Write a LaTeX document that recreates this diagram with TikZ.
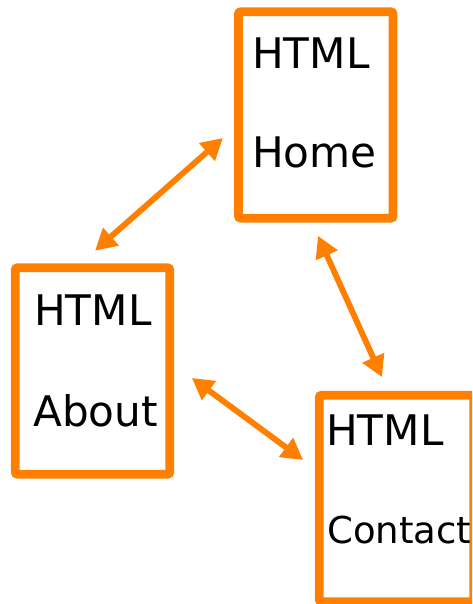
\documentclass[tikz,border=0pt]{standalone}
\usepackage{fontspec}
\setmainfont{DejaVu Sans}
\usetikzlibrary{arrows.meta,calc}
\definecolor{pageorange}{RGB}{255,128,0}

\begin{document}
\begin{tikzpicture}[x=0.75pt,y=-0.75pt,
  page/.style={draw=pageorange, line width=6.6pt, rounded corners=2pt,
    minimum width=116pt, minimum height=155pt, inner sep=0pt, outer sep=0pt},
  pagetext/.style={anchor=base west, inner sep=0pt, font=\fontsize{31.6}{36}\selectfont},
  smalltext/.style={pagetext, font=\fontsize{27.8}{32}\selectfont},
  link/.style={draw=pageorange, line width=4.4pt,
    {Triangle[length=16pt,width=17pt]}-{Triangle[length=16pt,width=17pt]}}]
  \useasboundingbox (0,0) rectangle (472,604);
  \clip (0,0) rectangle (472,604);
  % pages
  \foreach \name/\x/\y in {home/315.75/115, about/92.5/371, contact/396.5/498.5} {
    \node[page] (\name) at (\x,\y) {};
  }
  % page texts
  \node[pagetext] (home-html) at (252,68) {HTML};
  \node[pagetext] (home-title) at (252,167) {Home};
  \node[pagetext] (about-html) at (34,325) {HTML};
  \node[pagetext] (about-title) at (33,426) {About};
  \node[pagetext] (contact-html) at (326,445) {HTML};
  \node[smalltext] (contact-title) at (327,543) {Contact};
  % links
  \draw[link] ($(about.north)+(2.5,-17)$) -- ($(home.west)+(-15.5,23)$);
  \draw[link] ($(about.east)+(22,7)$) -- ($(contact.west)+(-16,-38.5)$);
  \draw[link] ($(home.south)+(2.25,17.5)$) -- ($(contact.north)+(-14.5,-18)$);
\end{tikzpicture}
\end{document}
